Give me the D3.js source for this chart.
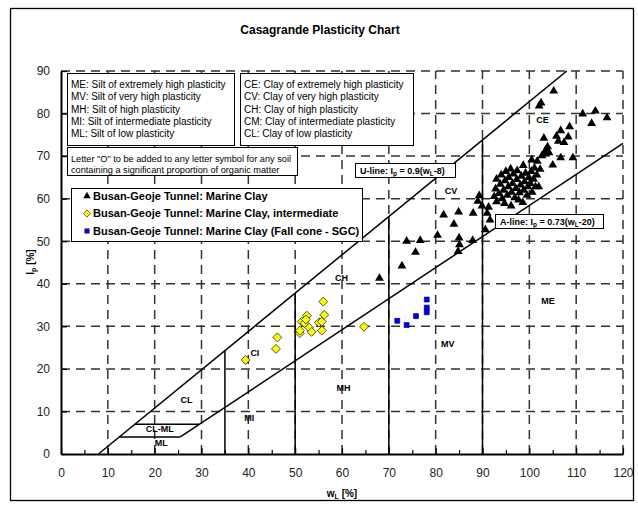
<!DOCTYPE html>
<html>
<head>
<meta charset="utf-8">
<script src="https://cdn.jsdelivr.net/npm/d3@7"></script>
<style>
  body { margin: 0; background: #fff; }
  svg { font-family: "Liberation Sans", Arial, sans-serif; }
  .gridline { stroke: #333; stroke-width: 1.5px; stroke-dasharray: 9 6; fill: none; }
</style>
</head>
<body>
<svg id="chart" width="638" height="506"></svg>
<script>
(function() {
  'use strict';

  // data: [wL, Ip]
  var marineClay = [
    [68.0,41.3],[72.8,44.2],[73.8,50.0],[76.7,50.2],[75.7,47.4],[80.4,51.4],[81.7,56.2],[83.9,54.0],
    [84.9,56.9],[85.0,50.8],[85.1,49.2],[84.8,47.6],[88.0,56.6],[87.9,50.2],[89.0,59.4],[89.3,60.7],
    [89.9,58.3],[90.6,52.7],[91.0,56.6],[91.3,58.0],[91.6,55.0],
    [92.5,60.5],[92.8,62.3],[93.0,64.6],[93.0,59.3],[93.5,61.2],[93.8,63.4],[94.0,65.6],[94.2,60.0],
    [94.5,62.0],[94.7,58.9],[94.8,64.2],[95.0,66.4],[95.3,60.8],[95.5,62.8],[95.6,65.0],[96.0,67.0],
    [96.1,58.3],[96.2,61.5],[96.4,63.6],[96.6,65.8],[96.9,60.2],[97.1,62.4],[97.3,64.5],[97.4,66.6],
    [97.7,59.7],[97.9,61.4],[98.1,63.2],[98.3,65.3],[98.6,59.1],[98.7,67.8],[98.8,62.0],[99.0,64.0],
    [99.2,66.0],[99.5,60.8],[99.7,62.8],[99.9,65.0],[100.2,63.6],[100.4,66.4],[100.5,69.1],[100.6,61.5],
    [100.9,64.6],[101.1,67.2],[101.3,62.8],[101.6,65.6],[101.7,68.8],[102.0,62.8],[102.3,66.9],[102.7,70.1],
    [103.1,74.2],[103.2,70.6],[103.5,71.4],[103.9,72.2],[104.2,70.8],[105.0,67.9],[105.8,74.7],[106.2,73.5],
    [106.7,69.6],[106.7,76.0],[107.4,73.2],[108.3,74.5],[108.6,76.9],[109.3,69.6],[113.3,77.7],[111.4,79.9],
    [114.1,80.6],[116.6,79.0],[102.1,81.8],[102.5,82.5],[105.2,85.3]
  ];
  var intermediate = [
    [39.4,22.1],[45.9,24.7],[46.2,27.4],[51.0,28.4],[51.0,29.0],[51.4,31.1],[52.0,30.7],[52.5,32.5],
    [53.0,29.7],[53.5,28.7],[55.1,30.9],[55.7,31.1],[55.7,29.0],[56.2,32.7],[56.0,35.8],[64.7,29.9],[52.3,31.6]
  ];
  var fallCone = [[71.8,31.3],[73.8,30.3],[75.8,32.4],[78.1,33.3],[78.1,34.4],[78.1,36.3]];

  var xTicks = [0,10,20,30,40,50,60,70,80,90,100,110,120];
  var xMinor = [5,15,25,35,45,55,65,75,85,95,105,115];
  var yTicks = [0,10,20,30,40,50,60,70,80,90];

  var siltNotes = ["ME: Silt of extremely high plasticity", "MV: Silt of very high plasticity",
    "MH: Silt of high plasticity", "MI: Silt of intermediate plasticity", "ML: Silt of low plasticity"];
  var clayNotes = ["CE: Clay of extremely high plasticity", "CV: Clay of very high plasticity",
    "CH: Clay of high plasticity", "CM: Clay of intermediate plasticity", "CL: Clay of low plasticity"];
  var organicNote = ["Letter \"O\" to be added to any letter symbol for any soil",
    "containing a significant proportion of organic matter"];
  var legendNames = ["Busan-Geoje Tunnel: Marine Clay", "Busan-Geoje Tunnel: Marine Clay, intermediate",
    "Busan-Geoje Tunnel: Marine Clay (Fall cone - SGC)"];
  var zoneLabels = [["CE",102.8,78.6],["CV",83.3,61.9],["CH",59.9,41.5],["CI",41.4,23.7],["CL",26.8,12.8],
    ["CL-ML",21.1,5.9],["ML",21.4,2.7],["MI",40.2,8.4],["MH",60.3,15.6],["MV",82.6,25.8],["ME",104,36]];
  var boundaries = [35, 50, 70, 90];

  function uLine(w) { return 0.9 * (w - 8); }
  function aLine(w) { return 0.73 * (w - 20); }

  var svg = d3.select("#chart");
  var x = d3.scaleLinear().domain([0, 120]).range([61, 623]);
  var y = d3.scaleLinear().domain([0, 90]).range([454, 71]);

  // outer frame
  svg.append("rect")
    .attr("x", 10.5).attr("y", 8.5).attr("width", 623).attr("height", 492)
    .attr("fill", "none").attr("stroke", "black").attr("stroke-width", 1.3);

  svg.append("text")
    .attr("x", 320).attr("y", 34)
    .attr("text-anchor", "middle")
    .style("font-weight", "bold").style("font-size", "12px")
    .text("Casagrande Plasticity Chart");

  // dashed grid (styled by the .gridline class)
  var grid = svg.append("g");
  grid.selectAll("line.vx").data(xTicks.slice(1)).join("line")
    .attr("class", "gridline vx")
    .attr("x1", function(d) { return x(d); }).attr("x2", function(d) { return x(d); })
    .attr("y1", y(0)).attr("y2", y(90));
  grid.selectAll("line.hy").data(yTicks.slice(1)).join("line")
    .attr("class", "gridline hy")
    .attr("y1", function(d) { return y(d); }).attr("y2", function(d) { return y(d); })
    .attr("x1", x(0)).attr("x2", x(120));

  // classification lines
  function seg(w1, i1, w2, i2) {
    svg.append("line").attr("x1", x(w1)).attr("y1", y(i1)).attr("x2", x(w2)).attr("y2", y(i2))
      .attr("stroke", "black").attr("stroke-width", 1.5);
  }
  seg(8, 0, 108, uLine(108));
  seg(20 + 4 / 0.73, 4, 120, aLine(120));
  boundaries.forEach(function(w) { seg(w, 0, w, uLine(w)); });
  seg(8 + 7 / 0.9, 7, 20 + 7 / 0.73, 7);
  seg(8 + 4 / 0.9, 4, 20 + 4 / 0.73, 4);

  // axes
  var xAxis = svg.append("g").attr("transform", "translate(0," + y(0) + ")")
    .call(d3.axisBottom(x).tickValues(xTicks).tickSizeInner(-6).tickSizeOuter(0).tickPadding(14));
  svg.append("g").attr("transform", "translate(0," + y(0) + ")")
    .call(d3.axisBottom(x).tickValues(xMinor).tickSizeInner(-4).tickSizeOuter(0).tickFormat(""))
    .select(".domain").remove();
  var yAxis = svg.append("g").attr("transform", "translate(" + x(0) + ",0)")
    .call(d3.axisLeft(y).tickValues(yTicks).tickSizeInner(-6).tickSizeOuter(0).tickPadding(11));
  svg.selectAll(".domain").attr("stroke-width", 2);
  svg.selectAll(".tick line").attr("stroke-width", 1.2);
  [xAxis, yAxis].forEach(function(a) {
    a.attr("font-family", null).attr("font-size", null);
    a.selectAll("text").style("font-size", "12px").attr("fill", "#222");
  });

  // data marks
  var marks = svg.append("g");
  marks.selectAll(".tri").data(marineClay).enter().append("path")
    .attr("d", d3.symbol(d3.symbolTriangle, 34))
    .attr("transform", function(d) { return "translate(" + x(d[0]) + "," + y(d[1]) + ")"; })
    .attr("fill", "black");
  marks.selectAll(".dia").data(intermediate).enter().append("path")
    .attr("d", d3.symbol(d3.symbolSquare, 40))
    .attr("transform", function(d) { return "translate(" + x(d[0]) + "," + y(d[1]) + ") rotate(45)"; })
    .attr("fill", "#ffff00").attr("stroke", "#333").attr("stroke-width", 0.8);
  marks.selectAll(".sq").data(fallCone).enter().append("path")
    .attr("d", d3.symbol(d3.symbolSquare, 24))
    .attr("transform", function(d) { return "translate(" + x(d[0]) + "," + y(d[1]) + ")"; })
    .attr("fill", "#0000ff").attr("stroke", "#000060").attr("stroke-width", 0.7);

  // zone labels
  svg.append("g").selectAll("text").data(zoneLabels).enter().append("text")
    .attr("x", function(d) { return x(d[1]); })
    .attr("y", function(d) { return y(d[2]); })
    .attr("dy", "0.35em").attr("text-anchor", "middle")
    .style("font-weight", "bold").style("font-size", "9px")
    .text(function(d) { return d[0]; });

  function box(x0, y0, w, h) {
    return svg.append("rect").attr("x", x0 + 0.5).attr("y", y0 + 0.5).attr("width", w).attr("height", h)
      .attr("fill", "white").attr("stroke", "black").attr("stroke-width", 1);
  }

  // definition boxes
  box(67, 73, 167, 72);
  box(240, 73, 173, 72);
  svg.append("g").selectAll("text").data(siltNotes).enter().append("text")
    .attr("x", 71).attr("y", function(d, i) { return 88 + i * 12.3; })
    .style("font-size", "10px").text(function(d) { return d; });
  svg.append("g").selectAll("text").data(clayNotes).enter().append("text")
    .attr("x", 244).attr("y", function(d, i) { return 88 + i * 12.3; })
    .style("font-size", "10px").text(function(d) { return d; });
  box(67, 147, 230, 28);
  svg.append("g").selectAll("text").data(organicNote).enter().append("text")
    .attr("x", 71).attr("y", function(d, i) { return 162 + i * 10.5; })
    .style("font-size", "9.2px").text(function(d) { return d; });

  // legend
  box(71, 188, 291, 53);
  var leg = svg.append("g").selectAll("g").data(legendNames).enter().append("g")
    .attr("transform", function(d, i) { return "translate(87," + (196 + i * 17.5) + ")"; });
  leg.append("path")
    .attr("d", function(d, i) {
      return d3.symbol([d3.symbolTriangle, d3.symbolSquare, d3.symbolSquare][i], [24, 26, 20][i])();
    })
    .attr("transform", function(d, i) { return i === 1 ? "rotate(45)" : null; })
    .attr("fill", function(d, i) { return ["black", "#ffff00", "#0000ff"][i]; })
    .attr("stroke", function(d, i) { return i === 0 ? "none" : "#333"; })
    .attr("stroke-width", 0.7);
  leg.append("text").attr("x", 6).attr("dy", "0.36em")
    .style("font-weight", "bold").style("font-size", "11px")
    .text(function(d) { return d; });

  // line labels
  function lineLabel(x0, y0, w, h, name, coef, off) {
    box(x0, y0, w, h);
    var t = svg.append("text").attr("x", x0 + 5).attr("y", y0 + h / 2 + 3.5)
      .style("font-weight", "bold").style("font-size", "9px");
    t.append("tspan").text(name + ": I");
    t.append("tspan").attr("dy", 2.5).style("font-size", "6.5px").text("p");
    t.append("tspan").attr("dy", -2.5).text(" = " + coef + "(w");
    t.append("tspan").attr("dy", 2.5).style("font-size", "6.5px").text("L");
    t.append("tspan").attr("dy", -2.5).text(off + ")");
  }
  lineLabel(355, 163, 100, 14, "U-line", "0.9", "-8");
  lineLabel(495, 214, 108, 14, "A-line", "0.73", "-20");

  // axis titles
  var xt = svg.append("text").attr("x", 342).attr("y", 497).attr("text-anchor", "middle")
    .style("font-weight", "bold").style("font-size", "10px");
  xt.append("tspan").text("w");
  xt.append("tspan").attr("dy", 1.5).style("font-size", "7px").text("L");
  xt.append("tspan").attr("dy", -1.5).text(" [%]");

  var yt = svg.append("text").attr("transform", "translate(34,262) rotate(-90)").attr("text-anchor", "middle")
    .style("font-weight", "bold").style("font-size", "10px");
  yt.append("tspan").text("I");
  yt.append("tspan").attr("dy", 2).style("font-size", "7px").text("p");
  yt.append("tspan").attr("dy", -2).text(" [%]");
})();
</script>
</body>
</html>
